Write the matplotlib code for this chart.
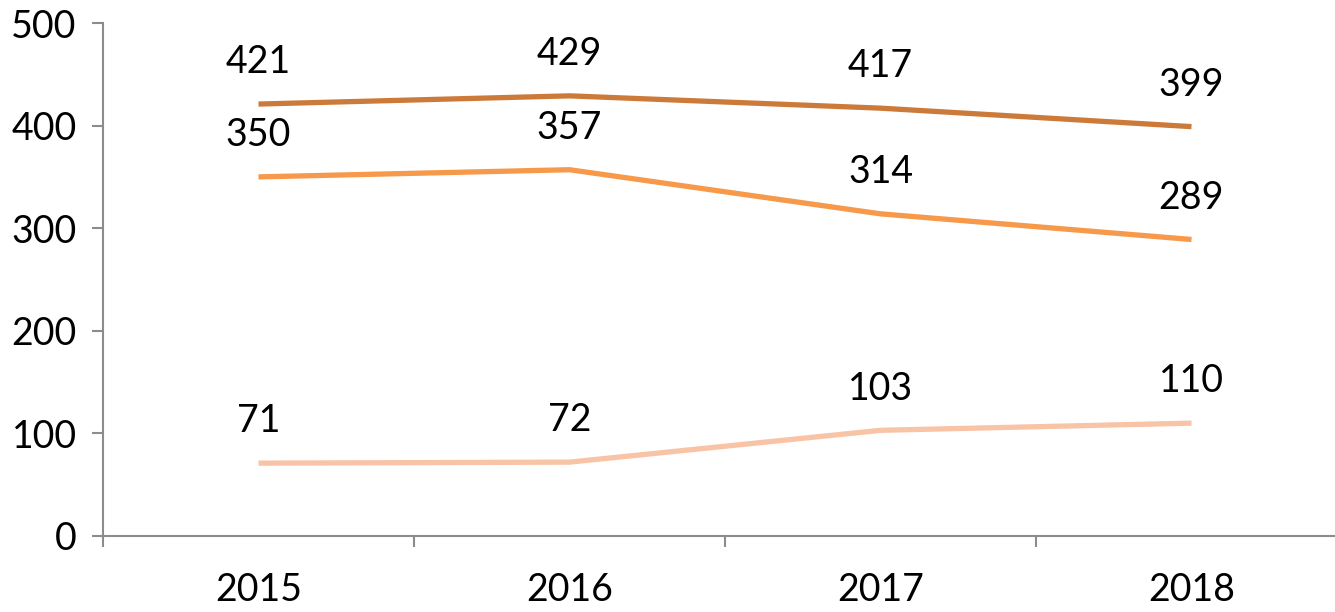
import matplotlib
matplotlib.use("Agg")
import matplotlib.pyplot as plt

years = ["2015", "2016", "2017", "2018"]
series_top = [421, 429, 417, 399]
series_mid = [350, 357, 314, 289]
series_low = [71, 72, 103, 110]

colors = ["#CC7A3A", "#F6994A", "#F9C3A6"]

plt.rcParams['font.family'] = ['Lato', 'DejaVu Sans']

fig = plt.figure(figsize=(13.35, 6.12), dpi=100)
ax = fig.add_axes([103/1335, 76/612, 1244/1335, 513/612])

x = list(range(len(years)))
for vals, c in zip([series_top, series_mid, series_low], colors):
    ax.plot(x, vals, color=c, linewidth=3.8, solid_capstyle='butt')
    for xi, v in zip(x, vals):
        ax.annotate(str(v), (xi, v), xytext=(0, 30), textcoords='offset points',
                    ha='center', va='center', fontsize=27, color='black')

ax.set_xlim(-0.5, 3.5)
ax.set_ylim(0, 500)
ax.set_yticks([0, 100, 200, 300, 400, 500])
ax.set_xticks([-0.5, 0.5, 1.5, 2.5, 3.5])
ax.set_xticklabels([])
ax.set_xticks(x, minor=True)
ax.set_xticklabels(years, minor=True)
ax.tick_params(axis='x', which='minor', length=0, pad=26, labelsize=27)
ax.tick_params(axis='x', which='major', length=8, width=1.5, color='#8C8C8C', direction='out')
ax.tick_params(axis='y', length=8, width=1.5, color='#8C8C8C', pad=11, labelsize=27)

for s in ['top', 'right']:
    ax.spines[s].set_visible(False)
for s in ['left', 'bottom']:
    ax.spines[s].set_color('#8C8C8C')
    ax.spines[s].set_linewidth(1.5)

fig.savefig("out.png", dpi=100)
